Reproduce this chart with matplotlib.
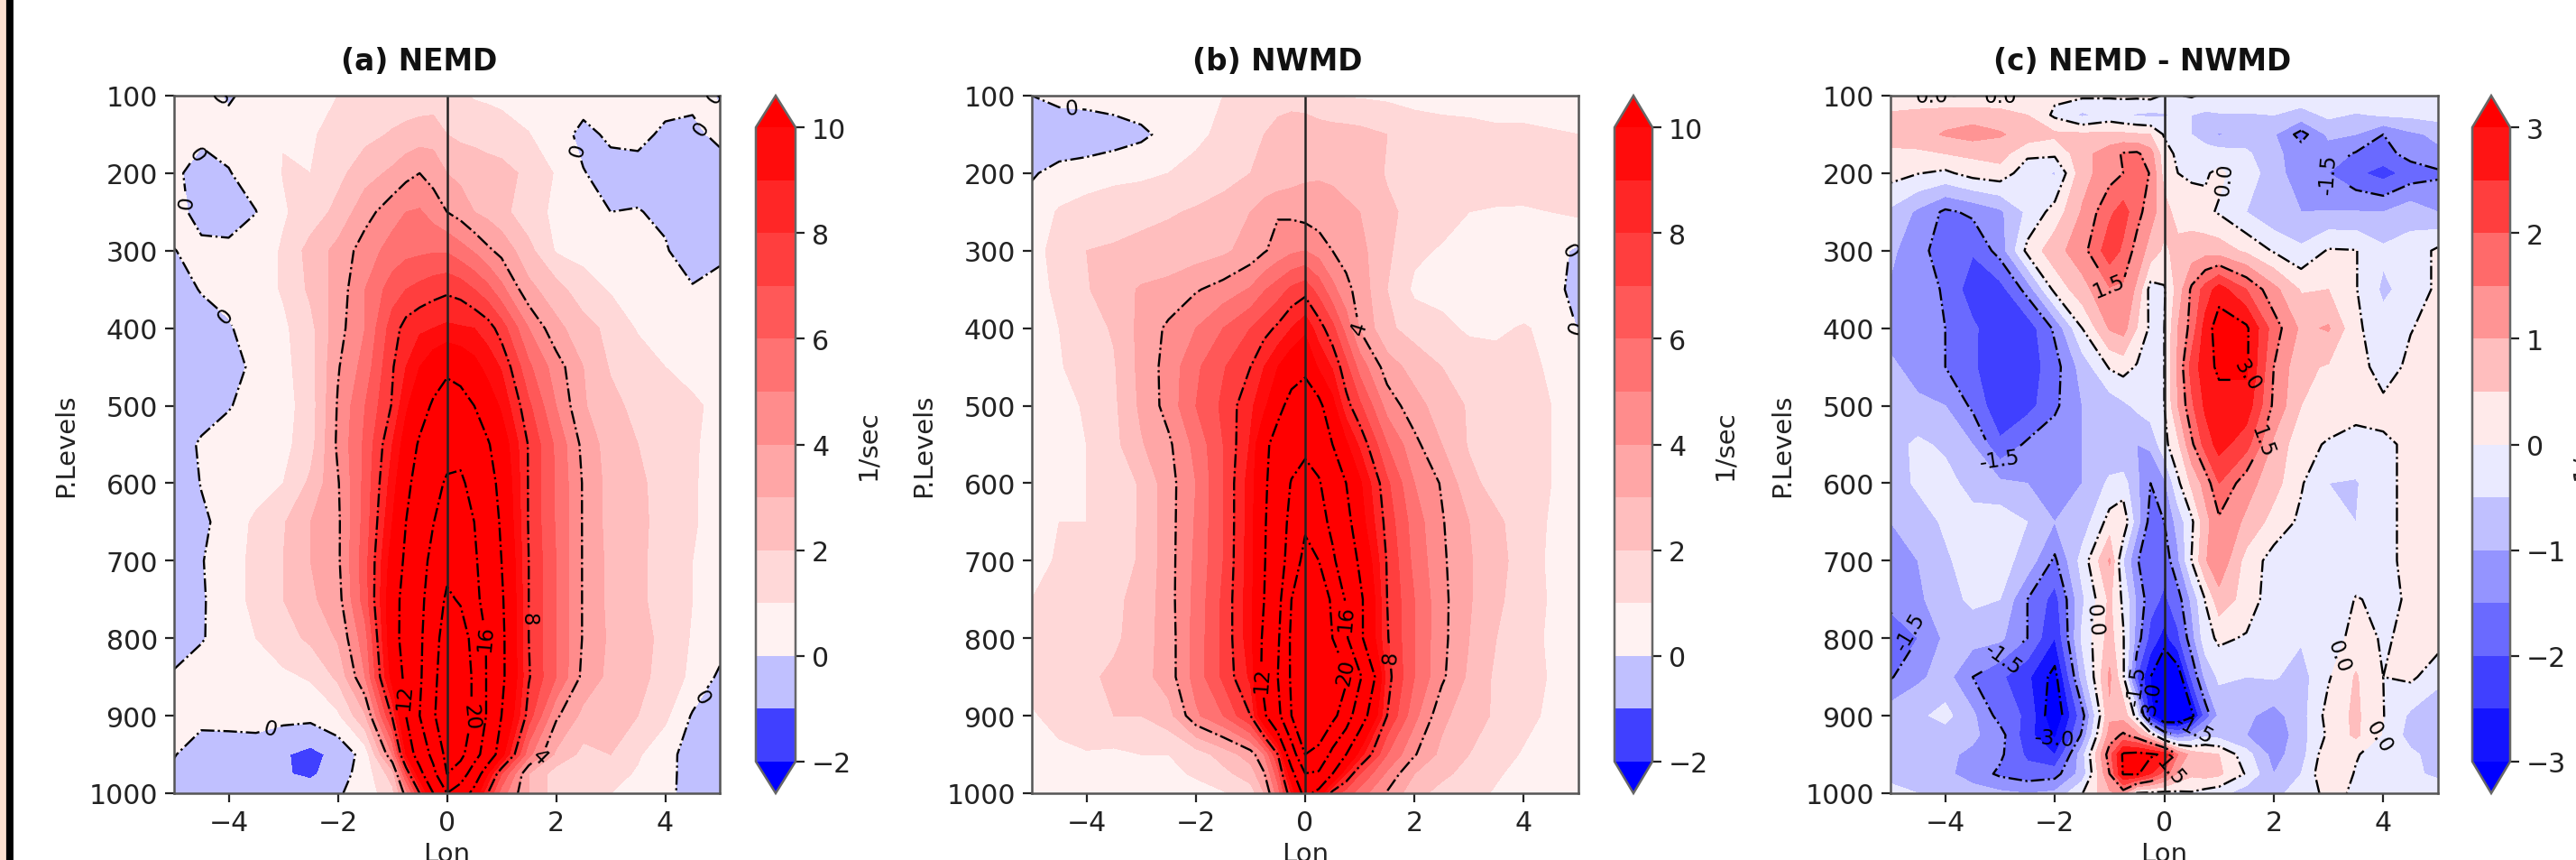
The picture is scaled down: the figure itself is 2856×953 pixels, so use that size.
import numpy as np
import matplotlib
matplotlib.use("Agg")
import matplotlib.pyplot as plt
from matplotlib.colors import TwoSlopeNorm, Normalize
from matplotlib.patches import Rectangle

lon = [-5,-4.5,-4,-3.5,-3,-2.5,-2,-1.5,-1,-.75,-.5,-.25,0,.25,.5,.75,1,1.5,2,2.5,3,3.5,4,4.5,5]
plev_ab = [100,150,200,250,300,350,400,450,500,550,600,650,700,750,800,850,900,950,975,1000]
plev_c = [100,125,150,175,200,250,300,350,400,450,500,550,600,650,700,750,800,850,900,925,950,975,1000]

nemd = [
[.1,.3,-.1,.3,.4,.6,1,1.2,1.4,1.4,1.4,1.4,1.4,1.2,.9,.8,.7,.6,.5,.5,.4,.4,.4,.2,-.05],
[.3,.2,.3,.5,.97,.9,1.3,1.7,2.1,2.3,2.5,2.6,2,1.8,1.8,1.7,1.5,1.03,.5,-.3,.2,.3,-.2,-.2,.2],
[.2,-.4,-.05,.4,1.03,1,1.7,2.6,3.2,3.7,4,3.6,3,2.7,2.4,2.3,2.3,1.8,.9,.05,-.4,-.4,-.5,-.6,-.4],
[.3,-.3,-.6,-.02,.9,1.4,2.3,3.6,4.6,5,5.1,4.6,4,3.6,3,2.7,2.3,1.4,.8,.1,0,.05,-.2,-.8,-.6],
[-.02,.2,.3,.5,1.1,2.4,3.3,4.5,5.4,5.7,5.8,5.9,5.9,5.4,4.9,4.2,3.7,2.3,.9,.7,.5,.3,.1,-.6,-.2],
[-.7,.1,.3,.5,1.1,2.2,3.4,5,6.5,7,7.3,7.6,7.8,7.6,7,6.3,5.3,3.3,2.4,1.4,.9,.5,.2,.1,.3],
[-.8,-.7,-.1,.5,.8,1.7,3.6,5,7.5,8.4,8.8,9,9.2,9.1,9,8.5,7.5,5,3.3,2.4,1.7,.9,.6,.5,.4],
[-.8,-.8,-.5,.3,.7,1.6,3.9,5.4,7.9,9,10,10.8,11.4,11,10.4,9.6,8.9,6.2,4.5,3,1.9,1.5,1,.6,.5],
[-.8,-.7,-.05,.3,.6,1.5,4.1,6,8.1,9.8,11,12.3,13.5,13,12,10.8,9.8,7.2,5,3.1,2.3,1.7,1.5,1.2,.7],
[-.8,.2,.3,.4,.7,1.6,4.2,6.2,9,10.6,12.3,14,15,15,14,12.2,10.8,7.9,5.8,3.7,2.5,2,1.7,1.1,.7],
[-.8,.05,.3,.5,1,2.2,3.9,6.3,9.5,11.3,13.2,15.2,16.3,16.5,15,13,11.3,7.9,5.9,3.9,2.6,2.1,1.8,1.1,.6],
[-.8,-.2,.4,1.2,1.9,3,3.8,6.4,10,12,14,15.9,17.8,17.7,16,14,11.6,7.9,5.9,3.9,2.6,2.2,1.7,1.1,.6],
[-.8,-.05,.5,1.3,2,3,3.8,6.6,10.6,12.4,14.6,17,19,19,16.5,14.2,12,8,6,3.9,2.7,2.2,1.6,1,.6],
[-.8,-.1,.5,1.3,2,2.8,3.6,6.5,11,12.9,15,18,20.5,19.7,17,14.5,12.3,8,6,3.9,2.7,2.2,1.6,1,.6],
[-.6,-.05,.3,1,1.6,2.2,3.1,5.6,11,13,15.4,18.4,22,21.5,19,15.5,12.5,8,6,3.9,2.8,2.4,1.7,.9,.5],
[.15,.3,.3,.4,.8,1.1,2.2,5,10.5,12.5,15.5,19,22.5,22,19.5,15.5,12.5,8.1,6,3.7,2.7,2.4,1.5,.8,-.2],
[.2,.3,.4,.4,.3,.3,.8,2.9,8.2,12,16,19.5,23,22,19.5,15.5,12,7.5,4.2,2.7,2.1,2,1.2,-.1,-.8],
[.05,-.5,-.6,-.5,-.9,-1.3,-.7,.4,5,10,13.5,17,21,21,17.5,14,10.5,5.3,2.8,1.7,2,1.1,.4,-.5,-.8],
[-.2,-.6,-.7,-.6,-.9,-1.2,-.4,.4,2.5,7,11,15,20,18,14,10,7,3,1.5,1.3,1.3,.9,.3,-.4,-.8],
[-.1,-.4,-.4,-.4,-.5,-.4,-.1,.4,1.7,4.5,8,12,16,14,11,8,5.5,3,1.5,1.1,1,.7,.2,-.3,-.7],
]

nwmd = [
[0,.3,.4,.5,.6,.7,.9,1,1.2,1.3,1.5,1.5,1.4,1.2,1.1,.9,.9,.8,.7,.6,.6,.5,.5,.4,.3],
[-.8,-.7,-.7,-.5,-.2,.3,.7,1.3,1.7,2,2.4,2.7,2.7,2.5,2.4,2.4,2.3,2,1.5,1.4,1.3,1.2,1.2,1.1,1],
[-.1,.3,.5,.7,.8,1,1.4,1.8,2,2.1,2.2,2.5,2.8,2.9,2.9,2.8,2.7,1.9,1.7,1.6,1.6,1.6,1.5,1.4,1.4],
[.4,1.1,1.4,1.6,1.7,1.9,2.1,2.2,3,3.5,3.9,3.8,3.6,3.4,3.2,3.1,3,2.2,1.7,1.4,1,.9,.9,1,1.2],
[.5,1.5,2,2.1,2.3,2.4,2.5,2.8,3.4,3.9,4.4,4.8,5,4.6,4,3.6,3.3,2.2,1.2,.9,.7,.7,.7,.4,-.2],
[.6,1.2,1.9,2.6,3.1,3.3,3.9,4.4,5.1,5.9,6.5,7.2,7.6,6.6,5.3,4.3,3.6,2,.8,.6,.5,.3,.2,.1,-.1],
[.4,1,1.6,2.1,3.3,4.2,5,6,7,7.6,8.2,9,9.7,8.5,7.3,5.6,3.9,2.2,1.6,1.3,.8,.8,1.1,.7,-.05],
[.4,.9,1.5,1.9,3.3,4.4,5.8,6.9,8,9,10,10.9,11.4,9.8,8.9,7.3,5.6,3.5,2.6,2,1.7,1.4,1.2,.9,.5],
[.4,.7,1.1,1.8,3.2,4.4,6,7.2,8.8,9.7,11.3,12.8,13.6,12.6,10.4,8.4,7.2,4.6,3.4,2.5,1.9,1.6,1.4,1,.6],
[.4,.7,1,1.7,2.9,3.8,5.3,7,9.1,11.4,13,14.4,15.4,14.4,12,10.2,8.8,6,4.3,3,1.9,1.6,1.4,1,.6],
[.5,.8,1,1.5,2.1,3.6,5,7,9.5,11.5,13.7,16.2,17,16.3,14,12,10.2,7.2,5,3.9,2.3,1.6,1.4,1,.5],
[.6,1,1,1.5,2.1,3.6,5.1,7,9.5,11.7,14,17,19.3,17.3,15.2,12.8,10.6,7.6,5.5,4.1,3,2.2,1.5,.9,.5],
[.7,1.1,1.3,1.6,2.1,3.6,5.2,7,9.6,11.8,14.4,17.5,21.3,20,16.6,13.8,11.6,7.9,5.7,4.2,3.1,2.3,1.6,.8,.5],
[1,1.3,1.5,1.8,2.3,3.6,5.3,7.2,9.6,12,14.8,20,22.3,22,19.5,15.6,12.5,8,6,4.3,3.1,2.2,1.5,.9,.5],
[1.2,1.5,1.6,1.8,2.5,3.5,5.4,7.2,9.6,12.5,15.5,20.6,22.5,22,20,16.5,12.5,8.1,6,4.3,3,2,1.5,.8,.4],
[1.3,1.4,1.8,2.2,2.6,3.5,5.4,7.2,9.2,12.8,16,20.5,23,23,21.5,20.5,16.5,8.4,6,4.2,2.8,1.8,1.5,.9,.4],
[.9,1.3,1.8,2,2,2.6,4.8,6,8,11.5,15,20,23,23,21,18,13.5,8,5.3,3.3,2.3,1.9,1.3,.8,.4],
[.5,.8,.9,.8,1,1,1.5,2.4,3.5,5,8,14,20,19,15,12,9.5,6,4.1,2.7,2,1.4,.9,.5,.3],
[.4,.7,.8,.7,.8,.8,1.1,1.7,2.5,3.9,6.5,11,15.9,15.5,12,9,7,4.8,3,2.2,1.7,1.1,.7,.4,.3],
[.3,.5,.7,.6,.6,.6,.7,.9,1.5,3,5.5,9,13,11,7.5,6.5,5.5,3.9,2.3,1.7,1.3,.9,.5,.3,.2],
]

diff = [
[0,.02,-.02,.03,-.02,.2,.1,.1,.05,.1,.1,.15,-.05,-.02,.05,-.1,-.1,-.1,-.2,-.2,-.05,-.1,-.15,-.2,-.25],
[.6,.7,.8,.8,.75,.5,-.1,-.6,-.3,-.45,-.55,-.6,-.55,-.4,-.5,-.6,-.55,-.55,-.5,-.7,-.4,-.55,-.45,-.4,-.3],
[.7,.8,1.05,1.2,1.05,.8,.6,.6,.6,.6,.55,.5,-.05,-.4,-.5,-.7,-1.05,-.8,-.95,-1.7,-.9,-1,-1.5,-1.1,-.9],
[.4,.4,.5,.6,.7,.1,.1,.8,1.3,1.55,1.6,1.2,.2,-.1,-.35,-.3,-.25,-.4,-.9,-1.2,-1.25,-1.55,-1.7,-1.3,-1.1],
[.2,.02,-.1,.2,.3,-.3,-.55,.8,1.3,1.5,1.9,1.45,.3,0,-.1,-.05,.1,-.3,-.7,-1.4,-1.5,-1.9,-2.2,-1.8,-1.6],
[-.6,-1.1,-1.6,-1.4,-1.1,-.4,.2,1.05,1.9,2.2,1.7,1.2,.7,.3,.3,.1,-.05,-.5,-.9,-1,-.98,-.98,-1,-.7,-1],
[-.9,-1.3,-1.8,-1.95,-1.3,.15,.8,1.3,2.3,1.9,1.3,.8,.4,.65,.7,.8,.75,.4,-.05,-.4,.05,.02,-.4,-.3,.1],
[-1.05,-1.3,-1.55,-2.3,-2.2,-1.3,.15,.8,1.45,1.4,.9,-.2,-.05,.7,1.6,2.2,2.75,2,1.15,.45,.5,.03,-.6,-.3,.1],
[-1.2,-1.3,-1.5,-1.9,-2.4,-2.3,-1.4,0,1.05,1.2,.5,-.1,0,1,1.7,2.7,3.3,3.1,1.75,.9,1.05,.1,-.3,-.02,.15],
[-.9,-1.2,-1.5,-1.9,-2.5,-2.3,-1.7,-.8,.05,.2,-.05,-.3,0,1.1,2.2,2.8,3.1,3.1,1.5,.6,.45,.2,-.2,.1,.15],
[-.8,-.9,-1,-1.6,-2.4,-2.2,-1.6,-1,-.8,-.6,-.4,-.2,0,1,1.9,2.6,2.8,2.8,1.4,.5,.3,.1,.1,.2,.2],
[-.7,-.4,-.6,-1,-1.9,-1.4,-1.2,-1,-.9,-1,-1,-.9,-.15,.4,1.4,2.2,2.7,2.2,.9,.15,-.05,-.1,-.05,.05,.2],
[-.8,-.4,-.3,-.7,-.9,-1,-1,-1,-.4,-.3,-.9,-1.5,-1.1,-.1,.6,1.2,2,1.2,.7,.05,-.5,-.55,-.1,.1,.2],
[-1,-.8,-.4,-.3,-.2,-.5,-1,-.8,.2,.4,-.8,-1.7,-1.5,-.8,-.1,.8,1.4,.9,.3,-.1,-.4,-.5,-.1,.1,.2],
[-1.2,-1,-.6,-.2,-.3,-.7,-1.6,-.3,1.05,-.5,-1.45,-1.9,-1.8,-1.1,.02,.95,1.4,.3,-.2,-.4,-.4,-.3,-.1,.1,.2],
[-1.4,-1.1,-.7,-.4,-.5,-1.5,-2.2,-.6,.6,-.1,-1.1,-1.8,-2.1,-1.7,-.9,.02,.8,.3,-.3,-.4,-.4,.03,-.1,.05,.05],
[-1.7,-1.5,-.9,-.8,-.9,-1.5,-2.5,-.4,.7,.05,-1.2,-2.2,-2.7,-2.1,-1.2,-.2,.1,-.05,-.45,-.45,-.3,.2,-.05,.1,.2],
[-1.55,-1.1,-.8,-1.5,-1.9,-2.4,-3.2,-.8,1.1,.1,-2,-3,-3.8,-3.4,-1.9,-.9,-.4,-.5,-.45,-.7,-.05,.55,0,.1,-.3],
[-.7,-.6,-.35,-.9,-1.7,-2.1,-3.5,-1.7,.9,.8,-.2,-2.8,-4,-3.8,-3.2,-1.8,-.9,-.9,-1.2,-.7,.2,.6,.02,-.6,-1],
[-.8,-.8,-.7,-.9,-1.3,-2.3,-3.1,-1.4,1.2,1.6,1.2,.4,-1,-1.5,-1.1,-.6,-.7,-1,-1.4,-.7,.1,.6,-.05,-.7,-.9],
[-.9,-.8,-.9,-1.1,-1.4,-2.1,-2.5,-.7,1.8,3.1,3.2,3.1,2.9,1.5,.8,.6,.5,-.3,-1.2,-.7,.4,.05,-.3,-.4,-.7],
[-.7,-.7,-.9,-1.2,-1.6,-1.8,-1.7,-.8,1.5,3.05,3.1,2.5,1.8,.9,.6,.7,.6,-.05,-1,-.5,.5,-.05,-.3,-.4,-.6],
[-.3,-.5,-.7,-.8,-.9,-1,-.9,-.02,.9,1.2,-.05,-.1,-.15,-.1,-.05,-.2,-.3,-.8,-.7,-.2,.1,-.05,-.1,-.1,-.2],
]

fill_levels_ab = list(range(-2, 11))
line_levels_ab = [0, 4, 8, 12, 16, 20]
fill_levels_c = [-3,-2.5,-2,-1.5,-1,-.5,0,.5,1,1.5,2,2.5,3]
line_levels_c = [-3,-1.5,0,1.5,3]
yticks = [100,200,300,400,500,600,700,800,900,1000]

W, H = 2856, 954
plt.rcParams['axes.linewidth'] = 0.9
fig = plt.figure(figsize=(W/200, H/200), dpi=200, facecolor='white')

def box(x0, x1, y0=107, y1=880):
    return [x0/W, 1-y1/H, (x1-x0)/W, (y1-y0)/H]

TXT = '#222222'

def panel(x0, x1, cx0, cx1, z, plev, levels, llevels, norm, ticks, title, title_x, fmt, manual):
    ax = fig.add_axes(box(x0, x1))
    z = np.array(z, float)
    cf = ax.contourf(lon, plev, z, levels=levels, cmap='bwr', norm=norm, extend='both')
    cs = ax.contour(lon, plev, z, levels=llevels, colors='k', linestyles='-.', linewidths=0.85)
    ax.clabel(cs, fmt=fmt, fontsize=8.3, inline=True, manual=manual)
    ax.axvline(0, color='#222222', lw=0.9)
    ax.set_xlim(-5, 5)
    ax.set_ylim(1000, 100)
    ax.set_xticks([-4,-2,0,2,4])
    ax.set_yticks(yticks)
    ax.tick_params(labelsize=10.8, length=3.5, width=0.8, colors=TXT, pad=3)
    ax.set_xlabel('Lon', fontsize=10.5, labelpad=2, color=TXT)
    ax.set_ylabel('P.Levels', fontsize=10.5, labelpad=4, color=TXT)
    ax.set_title(title, fontsize=11.8, fontweight='bold', pad=10.5, x=title_x, color='#111111')
    for s in ax.spines.values():
        s.set_color('#555555')
    cax = fig.add_axes(box(cx0, cx1))
    cb = fig.colorbar(cf, cax=cax, ticks=ticks)
    cb.ax.tick_params(labelsize=10.8, length=3.5, width=0.8, colors=TXT, pad=3)
    cb.set_label('1/sec', fontsize=10.5, labelpad=1.5, color=TXT)
    cb.outline.set_edgecolor('#666666')
    return ax

norm_ab = TwoSlopeNorm(vmin=-2, vcenter=0, vmax=10)
norm_c = Normalize(vmin=-3, vmax=3)

manual_a = [(-4.2,103),(-4.8,165),(-4.45,235),(-4,380),(-3.25,915),(4.63,875),(2.5,168),(4.5,150),(4.75,103),
            (1.77,958),(1.55,775),(-.78,875),(.66,800),(.42,900)]
manual_b = [(-4.27,112),(4.78,300),(4.9,400),(.95,400),(1.53,825),(-.8,853),(.65,775),(.5,850)]
manual_c = [(-4.27,103),(-2.99,103),(1.25,210),(-1.4,775),(3.27,825),(3.9,925),(-2.99,575),(-4.5,780),(-2.9,830),
            (2.53,220),(-.5,860),(-1,345),(1.77,545),(1.48,460),(-2,935),(0,880),(.58,920),(.25,975)]

panel(193, 798, 838, 882, nemd, plev_ab, fill_levels_ab, line_levels_ab, norm_ab, [-2,0,2,4,6,8,10], '(a) NEMD', .449, '%d', manual_a)
panel(1144, 1750, 1790, 1832, nwmd, plev_ab, fill_levels_ab, line_levels_ab, norm_ab, [-2,0,2,4,6,8,10], '(b) NWMD', .45, '%d', manual_b)
panel(2096, 2703, 2741, 2783, diff, plev_c, fill_levels_c, line_levels_c, norm_c, [-3,-2,-1,0,1,2,3], '(c) NEMD - NWMD', .46, '%.1f', manual_c)

fig.add_artist(Rectangle((5/W, 0), 8/W, 1, transform=fig.transFigure, color='black'))
fig.add_artist(Rectangle((0, 0), 5/W, 1, transform=fig.transFigure, color='#fde0d0'))
fig.savefig('out.png', dpi=200)
